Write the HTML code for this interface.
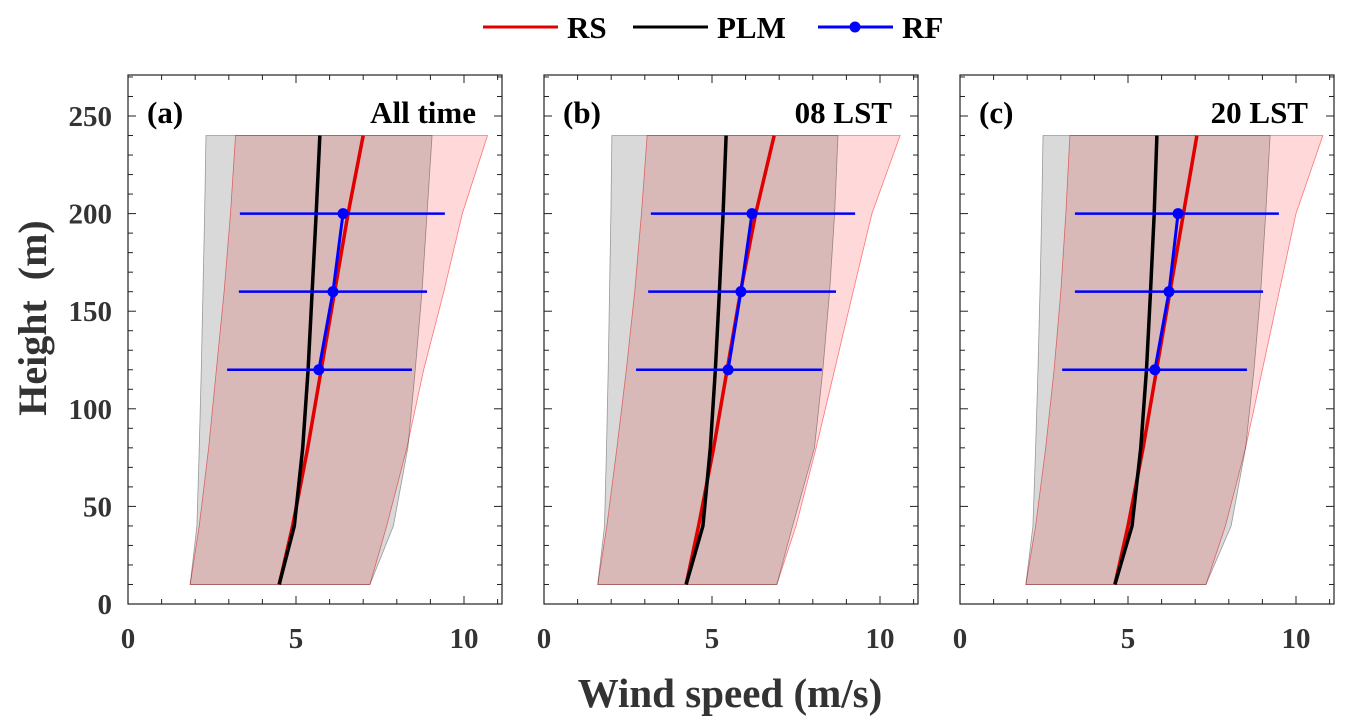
<!DOCTYPE html>
<html><head><meta charset="utf-8"><style>
body{margin:0;background:#fff;}
svg{display:block;font-family:"Liberation Serif",serif;font-weight:bold;}
</style></head><body>
<svg id="c" width="1347" height="728"></svg>
<script>
const heights=[10,40,80,120,160,200,240];
const rfHeights=[120,160,200];
const panelTitles=["(a)","(b)","(c)"];
const panelSubtitles=["All time","08 LST","20 LST"];
const xTicks=[0,5,10];
const yTicks=[0,50,100,150,200,250];
// panel a
const rsA=[4.5,4.9,5.35,5.75,6.15,6.55,7.0];
const plmA=[4.5,4.95,5.2,5.36,5.48,5.6,5.71];
const rfA=[5.68,6.1,6.4];
const rfLoA=[2.95,3.3,3.33];
const rfHiA=[8.45,8.9,9.43];
const gLoA=[1.85,2.05,2.12,2.18,2.23,2.28,2.32];
const gHiA=[7.2,7.9,8.33,8.55,8.75,8.9,9.05];
const rLoA=[1.85,2.12,2.4,2.63,2.86,3.05,3.2];
const rHiA=[7.2,7.7,8.3,8.8,9.4,9.95,10.7];
// panel b
const rsB=[4.23,4.6,5.05,5.45,5.85,6.3,6.85];
const plmB=[4.23,4.73,4.95,5.1,5.22,5.33,5.42];
const rfB=[5.48,5.86,6.19];
const rfLoB=[2.74,3.1,3.18];
const rfHiB=[8.27,8.69,9.26];
const gLoB=[1.6,1.8,1.86,1.91,1.95,1.99,2.02];
const gHiB=[6.93,7.4,8.05,8.3,8.5,8.65,8.75];
const rLoB=[1.6,1.87,2.17,2.45,2.7,2.9,3.07];
const rHiB=[6.93,7.5,8.1,8.65,9.2,9.76,10.6];
// panel c
const rsC=[4.61,5.0,5.45,5.85,6.25,6.65,7.05];
const plmC=[4.61,5.12,5.38,5.55,5.67,5.78,5.86];
const rfC=[5.8,6.22,6.49];
const rfLoC=[3.04,3.42,3.42];
const rfHiC=[8.54,9.02,9.49];
const gLoC=[1.96,2.17,2.25,2.32,2.38,2.43,2.47];
const gHiC=[7.32,8.07,8.5,8.75,8.95,9.1,9.23];
const rLoC=[1.96,2.25,2.55,2.8,3.0,3.15,3.27];
const rHiC=[7.32,7.9,8.5,9.0,9.5,10.0,10.8];

const panels=[
 {x0:128,rs:rsA,plm:plmA,rf:rfA,lo:rfLoA,hi:rfHiA,gl:gLoA,gh:gHiA,rl:rLoA,rh:rHiA},
 {x0:544,rs:rsB,plm:plmB,rf:rfB,lo:rfLoB,hi:rfHiB,gl:gLoB,gh:gHiB,rl:rLoB,rh:rHiB},
 {x0:960,rs:rsC,plm:plmC,rf:rfC,lo:rfLoC,hi:rfHiC,gl:gLoC,gh:gHiC,rl:rLoC,rh:rHiC}];
const NS="http://www.w3.org/2000/svg";
const svg=document.getElementById('c');
function mk(t,a,p){const e=document.createElementNS(NS,t);for(const k in a)e.setAttribute(k,a[k]);(p||svg).appendChild(e);return e;}
const PX=33.6, Y0=604, PY=1.952, W=374, TOP=75;
const yS=v=>Y0-v*PY;
panels.forEach((p,i)=>{
 const xS=v=>p.x0+v*PX;
 const g=mk('g',{});
 
 
 const band=(lo,hi,fill,stroke,name)=>{
  let pts=heights.map((h,j)=>xS(lo[j])+','+yS(h));
  pts=pts.concat(heights.map((h,j)=>xS(hi[j])+','+yS(h)).reverse());
  const e=mk('polygon',{points:pts.join(' '),fill:fill,stroke:stroke,'stroke-width':0.8},g);
  
  
 };
 band(p.rl,p.rh,'rgba(255,0,0,0.15)','rgba(255,0,0,0.5)','rs-range-band');
 band(p.gl,p.gh,'rgba(0,0,0,0.15)','rgba(0,0,0,0.35)','plm-range-band');
 const line=(arr,col,name)=>{
  const e=mk('polyline',{points:heights.map((h,j)=>xS(arr[j])+','+yS(h)).join(' '),fill:'none',stroke:col,'stroke-width':3.5},g);
  
  
 };
 line(p.rs,'#e00000','rs-line');
 line(p.plm,'#000','plm-line');
 rfHeights.forEach((h,j)=>{
  const e=mk('line',{x1:xS(p.lo[j]),x2:xS(p.hi[j]),y1:yS(h),y2:yS(h),stroke:'#0000ff','stroke-width':2.5},g);
  
  
 });
 const rl=mk('polyline',{points:rfHeights.map((h,j)=>xS(p.rf[j])+','+yS(h)).join(' '),fill:'none',stroke:'#0000ff','stroke-width':3},g);
 
 
 rfHeights.forEach((h,j)=>{
  const e=mk('circle',{cx:xS(p.rf[j]),cy:yS(h),r:5.5,fill:'#0000ff'},g);
  
  
 });
 const ax=mk('rect',{x:p.x0,y:TOP,width:W,height:Y0-TOP,fill:'none',stroke:'#222','stroke-width':1.2},g);
 
 
 for(let v=0;v<=11;v++){
  const x=xS(v),L=xTicks.includes(v)?8:5;
  mk('line',{x1:x,x2:x,y1:Y0,y2:Y0-L,stroke:'#222','stroke-width':1},g);
  mk('line',{x1:x,x2:x,y1:TOP,y2:TOP+L,stroke:'#222','stroke-width':1},g);
 }
 for(let v=0;v<=270;v+=10){
  const y=yS(v),L=yTicks.includes(v)?8:5;
  mk('line',{x1:p.x0,x2:p.x0+L,y1:y,y2:y,stroke:'#222','stroke-width':1},g);
  mk('line',{x1:p.x0+W,x2:p.x0+W-L,y1:y,y2:y,stroke:'#222','stroke-width':1},g);
 }
 xTicks.forEach(v=>{
  const t=mk('text',{x:xS(v),y:648,'text-anchor':'middle','font-size':29,fill:'#333'},g);t.textContent=v;
  
  
 });
 if(i===0) yTicks.forEach(v=>{
  const t=mk('text',{x:112,y:yS(v)+10,'text-anchor':'end','font-size':29,fill:'#333'},g);t.textContent=v;
  
  
 });
 const pt=mk('text',{x:p.x0+19,y:123,'font-size':31,fill:'#000'},g);pt.textContent=panelTitles[i];
 
 
 const st=mk('text',{x:p.x0+348,y:123,'text-anchor':'end','font-size':31,fill:'#000'},g);st.textContent=panelSubtitles[i];
 
 
});
const yl=mk('text',{x:0,y:0,transform:'translate(46,318) rotate(-90)','text-anchor':'middle','font-size':40,fill:'#333',style:'white-space:pre'});
yl.textContent='Height  (m)';


const xl=mk('text',{x:730,y:707,'text-anchor':'middle','font-size':41,fill:'#333'});
xl.textContent='Wind speed (m/s)';


const leg=[['RS','#e00000',483,false],['PLM','#000',633,false],['RF','#0000ff',818,true]];
leg.forEach(l=>{
 const g=mk('g',{});
 
 
 mk('line',{x1:l[2],x2:l[2]+75,y1:27,y2:27,stroke:l[1],'stroke-width':3},g);
 if(l[3]) mk('circle',{cx:l[2]+37,cy:27,r:5.5,fill:l[1]},g);
 const t=mk('text',{x:l[2]+84,y:38,'font-size':31,fill:'#000'},g);t.textContent=l[0];
});
</script>
</body></html>
